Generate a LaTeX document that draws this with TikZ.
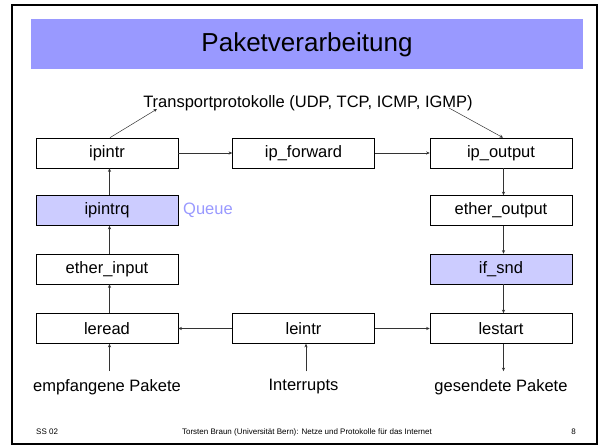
\documentclass[tikz,border=0pt]{standalone}
\usepackage{fontspec}
\setmainfont{Liberation Sans}
\usetikzlibrary{arrows.meta}
\definecolor{band}{HTML}{9999FF}
\definecolor{boxfill}{HTML}{CCCCFF}
\begin{document}
\begin{tikzpicture}[x=1pt,y=-1pt,
  box/.style={draw=black,line width=0.7pt,minimum width=142pt,minimum height=30pt,inner sep=0pt,font=\fontsize{16.5}{19}\selectfont},
  qbox/.style={box,fill=boxfill},
  lbl/.style={font=\fontsize{16.5}{19}\selectfont,inner xsep=2pt,inner ysep=8pt},
  arr/.style={draw=black!80,line width=0.5pt,-{Stealth[length=3.5pt,width=3.2pt]}},
  vup/.style={arr,transform canvas={xshift=2.5pt}},
  foot/.style={font=\fontsize{8}{9}\selectfont,inner sep=0pt}]
\useasboundingbox (0,0) rectangle (605,446);
\draw[line width=2pt] (12,5) rectangle (597,444);
\fill[band] (31,19) rectangle (583,69);
\node[font=\fontsize{26}{30}\selectfont] (title) at (307,45) {Paketverarbeitung};
\node[font=\fontsize{16.5}{19}\selectfont,inner sep=0pt,anchor=base] (tp) at (308,108) {Transportprotokolle (UDP, TCP, ICMP, IGMP)};
\coordinate (tpl) at (157,109);
\coordinate (tpr) at (449,108);
% column 1
\node[box] (ipintr) at (107,153) {ipintr};
\node[qbox] (ipintrq) at (107,210.5) {ipintrq};
\node[box] (etherin) at (107,269) {ether\_input};
\node[box] (leread) at (107,328.5) {leread};
% column 2
\node[box] (ipfwd) at (303.5,153) {ip\_forward};
\node[box] (leintr) at (303.5,328.5) {leintr};
% column 3
\node[box] (ipout) at (501,153) {ip\_output};
\node[box] (etherout) at (501,210.5) {ether\_output};
\node[qbox] (ifsnd) at (501,269) {if\_snd};
\node[box] (lestart) at (501,328.5) {lestart};
% labels
\node[font=\fontsize{16.5}{19}\selectfont,text=band,anchor=west,inner sep=0pt] (queue) at (183,210.5) {Queue};
\node[lbl] (emp) at (107,387) {empfangene Pakete};
\node[lbl] (intr) at (303.5,387) {Interrupts};
\node[lbl] (ges) at (501,387) {gesendete Pakete};
% connectors
\draw[arr] ([xshift=3pt]ipintr.north) -- (tpl);
\draw[arr] (tpr) -- ([xshift=2pt]ipout.north);
\draw[arr] (ipintr) -- (ipfwd);
\draw[arr] (ipfwd) -- (ipout);
\draw[vup] (ipintrq) -- (ipintr);
\draw[vup] (etherin) -- (ipintrq);
\draw[vup] (leread) -- (etherin);
\draw[vup] (emp) -- (leread);
\draw[vup] (intr) -- (leintr);
\draw[arr] (leintr) -- (leread);
\draw[arr] (leintr) -- (lestart);
\draw[vup] (ipout) -- (etherout);
\draw[vup] (etherout) -- (ifsnd);
\draw[vup] (ifsnd) -- (lestart);
\draw[vup] (lestart) -- (ges);
% footer
\node[foot,anchor=west] (ss) at (36,432) {SS 02};
\node[foot] (ft) at (307,432) {Torsten Braun (Universität Bern): Netze und Protokolle für das Internet};
\node[foot,anchor=east] (pg) at (576,432) {8};
\end{tikzpicture}
\end{document}
